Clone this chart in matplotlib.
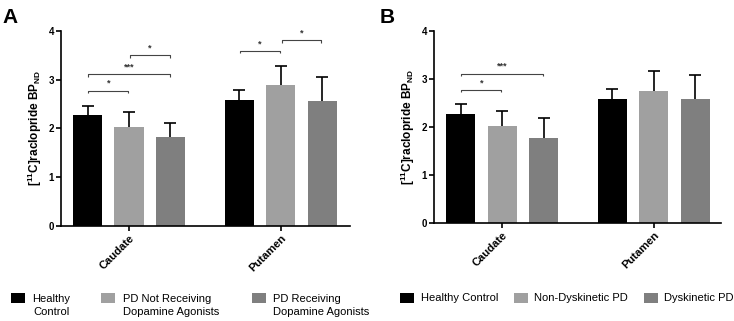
import numpy as np
import matplotlib
matplotlib.use("Agg")
import matplotlib.pyplot as plt
from matplotlib.patches import Rectangle

plt.rcParams['font.family'] = ['Liberation Sans', 'DejaVu Sans']
plt.rcParams['mathtext.fontset'] = 'custom'
plt.rcParams['mathtext.rm'] = 'Liberation Sans'
plt.rcParams['mathtext.bf'] = 'Liberation Sans:bold'
plt.rcParams['mathtext.it'] = 'Liberation Sans:italic'

# ---------------- data ----------------
regions = ["Caudate", "Putamen"]
colors = ["#000000", "#a0a0a0", "#7f7f7f"]

groups_a = ["Healthy\nControl", "PD Not Receiving\nDopamine Agonists", "PD Receiving\nDopamine Agonists"]
means_a = [[2.27, 2.58], [2.03, 2.89], [1.82, 2.56]]
errs_a = [[0.20, 0.20], [0.30, 0.40], [0.30, 0.50]]
# (region index, group i, group j, bracket height, label)
sig_a = [(0, 0, 1, 2.77, "*"), (0, 0, 2, 3.11, "***"), (0, 1, 2, 3.50, "*"),
         (1, 0, 1, 3.59, "*"), (1, 1, 2, 3.81, "*")]

groups_b = ["Healthy Control", "Non-Dyskinetic PD", "Dyskinetic PD"]
means_b = [[2.27, 2.59], [2.02, 2.76], [1.78, 2.59]]
errs_b = [[0.20, 0.20], [0.32, 0.41], [0.40, 0.50]]
sig_b = [(0, 0, 1, 2.77, "*"), (0, 0, 2, 3.11, "***")]

yticks = [0, 1, 2, 3, 4]

# ---------------- figure ----------------
W, H = 734, 321
fig = plt.figure(figsize=(7.34, 3.21), dpi=100)
ax_a = fig.add_axes([0.0831, 0.296, 0.3937, 0.6074])
ax_b = fig.add_axes([0.5913, 0.3053, 0.391, 0.5981])

group_pos = np.array([0.0, 3.66])
width = 0.70


def draw(ax, means, errs, sig, xlim):
    for g in range(3):
        xs = group_pos + (g - 1)
        ax.bar(xs, means[g], width=width, color=colors[g], edgecolor='none', zorder=2)
        _, caps, _ = ax.errorbar(xs, means[g], yerr=[np.zeros(2), errs[g]], fmt='none',
                                 ecolor='black', elinewidth=1.2, capsize=4, capthick=1.2,
                                 zorder=3)
        caps[0].set_visible(False)
    for r, i, j, h, lab in sig:
        x1 = group_pos[r] + (i - 1) + 0.02
        x2 = group_pos[r] + (j - 1) - 0.02
        d = 0.05
        ax.plot([x1, x1, x2, x2], [h - d, h, h, h - d], color='#444444', lw=0.8,
                solid_capstyle='butt', zorder=3)
        ax.text((x1 + x2) / 2, h + 0.06, lab, ha='center', va='bottom',
                fontsize=6.5, fontweight='bold', color='#333333')
    ax.set_xlim(*xlim)
    ax.set_ylim(0, 4)
    ax.set_yticks(yticks)
    ax.set_yticklabels([str(t) for t in yticks], fontsize=7, fontweight='bold')
    ax.set_xticks(group_pos)
    ax.set_xticklabels(regions, rotation=45, ha='right', rotation_mode='anchor',
                       fontsize=8, fontweight='bold')
    for s in ['top', 'right']:
        ax.spines[s].set_visible(False)
    for s in ['left', 'bottom']:
        ax.spines[s].set_linewidth(1.2)
    ax.tick_params(axis='both', direction='out', width=1.2, length=3.5, pad=1.5)
    ax.set_ylabel(r'[$\mathbf{^{11}}$C]raclopride BP$_{\mathbf{ND}}$', fontsize=8.5,
                  fontweight='bold', labelpad=3)


draw(ax_a, means_a, errs_a, sig_a, (-1.64, 5.33))
draw(ax_b, means_b, errs_b, sig_b, (-1.64, 5.28))

fig.text(0.004, 0.975, "A", fontsize=15, fontweight='bold', va='top', ha='left')
fig.text(0.517, 0.975, "B", fontsize=15, fontweight='bold', va='top', ha='left')


def legend(labels, sq_x, txt_x, sq_top, multiline):
    for lab, sx, tx, c in zip(labels, sq_x, txt_x, colors):
        fig.add_artist(Rectangle((sx / W, 1 - (sq_top + 10) / H), 14 / W, 10 / H,
                                 transform=fig.transFigure, facecolor=c, edgecolor='none'))
        if multiline:
            fig.text(tx / W, 1 - (sq_top + 1.5) / H, lab, ha='left', va='top', fontsize=8,
                     linespacing=1.3,
                     multialignment='center' if lab.startswith('Healthy') else 'left')
        else:
            fig.text(tx / W, 1 - (sq_top + 5) / H, lab, ha='left', va='center', fontsize=8)


legend(groups_a, [11, 101, 252], [32, 123, 273], 293, True)
legend(groups_b, [400, 514, 644], [421, 534, 664], 293, False)

fig.savefig("out.png", dpi=100)
